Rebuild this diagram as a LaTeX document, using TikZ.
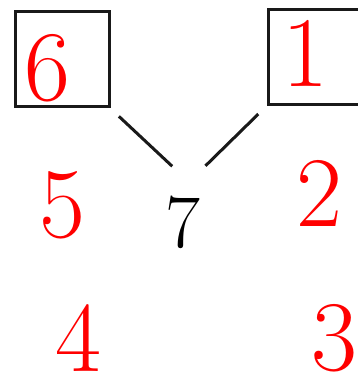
\documentclass[tikz,border=0pt]{standalone}
\usepackage{tikz}
\usepackage{xcolor}
\usetikzlibrary{positioning, calc}
\definecolor{cDigit}{RGB}{255,0,0}
\definecolor{cInk}{RGB}{25,25,25}
\tikzset{
	numbox/.style ={rectangle, draw=cInk, line width=3pt, minimum width=94pt, minimum height=95pt, inner sep=0pt},
	redlbl/.style ={inner sep=0pt, text=cDigit, font=\fontsize{100}{100}\selectfont},
	midlbl/.style ={inner sep=0pt, text=black, font=\fontsize{76}{76}\selectfont},
	link/.style   ={draw=cInk, line width=3pt, shorten <=11.5pt, shorten >=23pt},
}
\begin{document}
\begin{tikzpicture}[x=1pt, y=-1pt]
	\useasboundingbox (0,0) rectangle (358,377);
	\node[numbox] (b6) at (62,59.5) {};
	\node[numbox] (b1) at (315,57) {};
	\node[redlbl] (d6) at (47,68) {6};
	\node[redlbl] (d1) at (305,53) {1};
	\node[redlbl] (d5) at (62,205) {5};
	\node[redlbl] (d2) at (319,193) {2};
	\node[redlbl] (d4) at (78,338) {4};
	\node[redlbl] (d3) at (334,338) {3};
	\node[midlbl] (n7) at (183,222) {7};
	\coordinate (apex) at (189,182);
	\draw[link] (b6.south east) -- (apex);
	\draw[link] (b1.south west) -- (apex);
\end{tikzpicture}
\end{document}
